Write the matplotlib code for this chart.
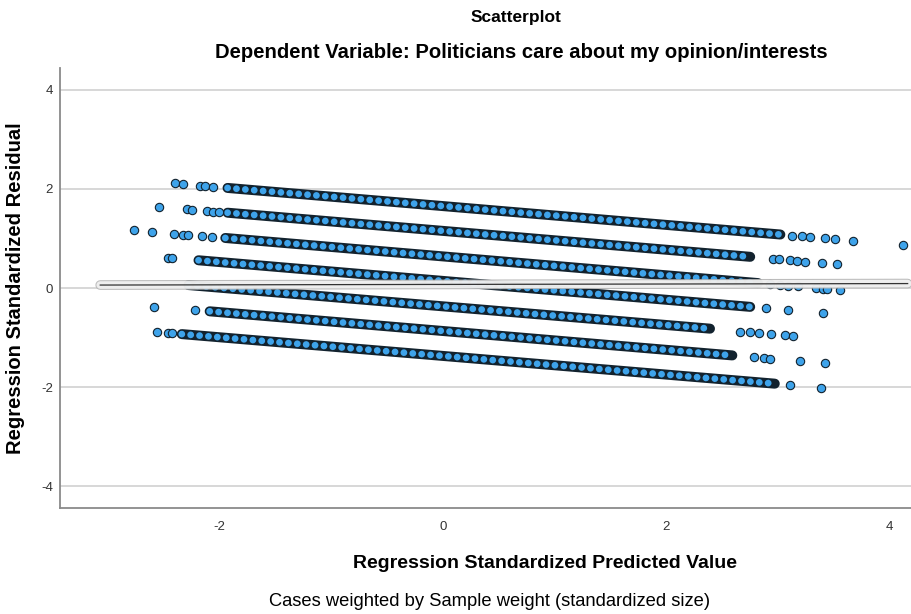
import matplotlib.pyplot as plt
import matplotlib.patheffects as pe

plt.rcParams['font.family'] = ['Liberation Sans', 'DejaVu Sans']
plt.rcParams['axes.unicode_minus'] = False

# dense runs of cases, one per response level (start / end)
run_x0 = [-1.93, -1.93, -1.95, -2.19, -2.28, -2.09, -2.34]
run_y0 = [2.02, 1.52, 1.01, 0.56, 0.06, -0.47, -0.93]
run_x1 = [3.02, 2.75, 2.82, 2.75, 2.39, 2.59, 2.97]
run_y1 = [1.08, 0.63, 0.10, -0.38, -0.82, -1.36, -1.93]

# single cases at the ends of the runs
pts_x = [-2.40, -2.33, -2.18, -2.13, -2.06,
         3.12, 3.21, 3.29, 3.42, 3.51, 3.67, 4.12,
         -2.54, -2.29, -2.25, -2.11, -2.06, -2.01,
         2.95, 3.01, 3.11, 3.17, 3.24, 3.39, 3.53,
         -2.77, -2.61, -2.41, -2.33, -2.28, -2.16, -2.07,
         2.93, 3.02, 3.09, 3.18, 3.34, 3.40, 3.44, 3.55,
         -2.46, -2.43,
         2.89, 3.09, 3.40,
         2.66, 2.75, 2.83, 2.94, 3.06, 3.13,
         -2.59, -2.22,
         2.78, 2.87, 2.93, 3.20, 3.42,
         -2.56, -2.46, -2.43,
         3.11, 3.38]
pts_y = [2.11, 2.09, 2.06, 2.05, 2.04,
         1.06, 1.04, 1.03, 1.00, 0.98, 0.95, 0.87,
         1.63, 1.59, 1.58, 1.55, 1.54, 1.53,
         0.59, 0.58, 0.56, 0.55, 0.53, 0.51, 0.48,
         1.17, 1.13, 1.10, 1.08, 1.07, 1.05, 1.03,
         0.08, 0.07, 0.05, 0.04, 0.01, -0.01, -0.01, -0.04,
         0.61, 0.60,
         -0.41, -0.45, -0.51,
         -0.88, -0.89, -0.91, -0.93, -0.95, -0.97,
         -0.38, -0.45,
         -1.40, -1.42, -1.43, -1.48, -1.52,
         -0.88, -0.90, -0.91,
         -1.96, -2.01]

# fit line at total
fit_x = [-3.07, 4.16]
fit_y = [0.06, 0.09]

x_ticks = [-2, 0, 2, 4]
y_ticks = [-4, -2, 0, 2, 4]

blue = '#3ea3ea'
edge = '#12222e'

fig = plt.figure(figsize=(9.11, 6.14), dpi=100)
ax = fig.add_axes([0.0659, 0.1726, 0.9341, 0.7166])

for x0, y0, x1, y1 in zip(run_x0, run_y0, run_x1, run_y1):
    ax.plot([x0, x1], [y0, y1], color=edge, lw=7.2, solid_capstyle='round', zorder=3)
    ax.plot([x0, x1], [y0, y1], color=blue, lw=4.9, linestyle=(0, (0.01, 1.3)),
            dash_capstyle='round', zorder=4)

ax.scatter(pts_x, pts_y, s=36, color=blue, edgecolors=edge, linewidths=0.8, zorder=5)

ax.plot(fit_x, fit_y, color='white', lw=5.5, alpha=0.75, solid_capstyle='round', zorder=6,
        path_effects=[pe.Stroke(linewidth=7.0, foreground='#b5b5b5', alpha=0.9), pe.Normal()])
ax.plot(fit_x, fit_y, color='#333333', lw=0.9, zorder=7)

ax.set_xlim(-3.43, 4.19)
ax.set_ylim(-4.44, 4.44)
ax.set_xticks(x_ticks)
ax.set_yticks(y_ticks)
ax.yaxis.grid(True, color='#d4d4d4', lw=1.3)
ax.set_axisbelow(True)
ax.tick_params(length=0, labelsize=9.5, colors='#333333')
ax.tick_params(axis='x', pad=9)
ax.tick_params(axis='y', pad=5)
for s in ['top', 'right']:
    ax.spines[s].set_visible(False)
for s in ['left', 'bottom']:
    ax.spines[s].set_color('#8a8a8a')
    ax.spines[s].set_linewidth(1.3)

fig.text(0.566, 0.971, 'Scatterplot', ha='center', va='center', fontsize=12.5, fontweight='bold')
fig.text(0.572, 0.914, 'Dependent Variable: Politicians care about my opinion/interests',
         ha='center', va='center', fontsize=14.6, fontweight='bold')
fig.text(0.017, 0.531, 'Regression Standardized Residual', rotation=90,
         ha='center', va='center', fontsize=14.5, fontweight='bold')
fig.text(0.598, 0.082, 'Regression Standardized Predicted Value',
         ha='center', va='center', fontsize=14, fontweight='bold')
fig.text(0.537, 0.021, 'Cases weighted by Sample weight (standardized size)',
         ha='center', va='center', fontsize=13.2)

fig.savefig('out.png', dpi=100)
